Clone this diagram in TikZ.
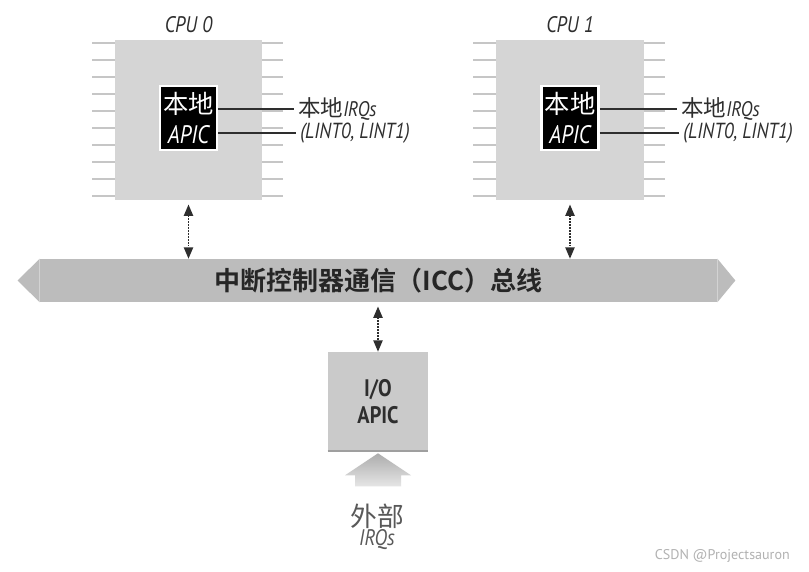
\documentclass[tikz,border=0pt]{standalone}
\usepackage{fontspec}
\setsansfont{PT Sans}
\newfontfamily\cjk{Noto Sans CJK SC}[BoldFont={Noto Sans CJK SC Bold}]
\newfontfamily\narrow{PT Sans}[FakeStretch=0.85]
\usetikzlibrary{positioning, arrows.meta, calc}
\definecolor{chipgray}{HTML}{D5D5D5}
\definecolor{pingray}{HTML}{C6C6C6}
\definecolor{busgray}{HTML}{BCBCBC}
\definecolor{iogray}{HTML}{CACACA}
\definecolor{ink}{HTML}{2E2E2E}

\begin{document}
\begin{tikzpicture}[
  x=0.025cm, y=-0.025cm,
  chip/.style={rectangle, fill=chipgray, inner sep=0pt,
               minimum width=3.675cm, minimum height=4cm},
  pin/.style={draw=pingray, line width=1.4pt},
  title/.style={font=\narrow\itshape\fontsize{16}{18}\selectfont,
                text=ink, inner sep=0pt},
  apic/.style={rectangle, fill=black, draw=white, line width=1.8pt,
               text=white, align=center, inner sep=0pt,
               minimum width=1.425cm, minimum height=1.6cm,
               font=\fontsize{18}{21}\selectfont},
  lbl/.style={anchor=west, inner sep=0pt, text=ink},
  lead/.style={draw=ink, line width=0.9pt, shorten >=3pt},
  bus/.style={rectangle, fill=busgray, inner sep=0pt,
              minimum width=16.925cm, minimum height=1.075cm,
              font=\cjk\bfseries\fontsize{18.5}{21}\selectfont, text=black!85},
  link/.style={{Triangle[length=8pt,width=6.5pt]}-{Triangle[length=8pt,width=6.5pt]},
               densely dotted, line width=1.1pt, draw=ink},
  iobox/.style={rectangle, fill=iogray, inner sep=0pt, align=center,
                minimum width=2.5cm, minimum height=2.475cm,
                font=\narrow\bfseries\fontsize{17}{19}\selectfont, text=ink}
]
\fill[white] (0,0) rectangle (809,572);
\useasboundingbox (0,0) rectangle (809,572);

% --- the two CPUs ---
\node[chip] at (188.5,120) (cpu0) {};
\node[chip] at (570,120)   (cpu1) {};
\foreach \c in {cpu0,cpu1}
  \foreach \i in {0,...,9} {
    \draw[pin] ($(\c.north west)+(0,{3+17*\i})$) -- ++(-23,0);
    \draw[pin] ($(\c.north east)+(0,{3+17*\i})$) -- ++(21,0);
  }
\node[title, above=5pt of cpu0] (t0) {CPU 0};
\node[title, above=5pt of cpu1] (t1) {CPU 1};

% --- local APICs ---
\node[apic] at ($(cpu0)+(0,-2)$) (apic0) {%
  {\cjk 本地}\\{\narrow\itshape APIC}};
\node[apic] at ($(cpu1)+(0,-2)$) (apic1) {%
  {\cjk 本地}\\{\narrow\itshape APIC}};

% --- local IRQ labels ---
\node[lbl] at (298,109) (irq0) {%
  {\cjk\fontsize{16}{18}\selectfont 本地}{\narrow\itshape\fontsize{15}{17}\selectfont IRQs}};
\node[lbl] at (300,133) (lint0) {%
  \narrow\itshape\fontsize{15.5}{17}\selectfont (LINT0, LINT1)};
\node[lbl] at (681,109) (irq1) {%
  {\cjk\fontsize{16}{18}\selectfont 本地}{\narrow\itshape\fontsize{15}{17}\selectfont IRQs}};
\node[lbl] at (683,133) (lint1) {%
  \narrow\itshape\fontsize{15.5}{17}\selectfont (LINT0, LINT1)};
\draw[lead] (apic0.east |- irq0.west) -- (irq0.west);
\draw[lead] (apic0.east |- lint0.west) -- (lint0.west);
\draw[lead] (apic1.east |- irq1.west) -- (irq1.west);
\draw[lead] (apic1.east |- lint1.west) -- (lint1.west);

% --- ICC bus ---
\node[bus] at (378.5,280.5) (bus) {中断控制器通信（ICC）总线};
\fill[busgray] (bus.north east) -- ($(bus.east)+(18,0)$) -- (bus.south east) -- cycle;
\fill[busgray] (bus.north west) -- ($(bus.west)+(-22,0)$) -- (bus.south west) -- cycle;

% --- I/O APIC ---
\node[iobox] at (378,401.5) (io) {I/O\\APIC};
\draw[gray!75, line width=1.5pt] (io.south west) -- (io.south east);
\shade[top color=gray!65, bottom color=gray!20]
  ($(io.south)+(0,2)$) -- ++(33,22) -- ++(-10,0) -- ++(0,11)
  -- ++(-46,0) -- ++(0,-11) -- ++(-10,0) -- cycle;
\node[align=center, inner sep=0pt, text=black!65] at (377,527) (ext) {%
  {\cjk\fontsize{19}{22}\selectfont 外部}\\
  {\narrow\itshape\fontsize{16}{17}\selectfont IRQs}};

% --- arrows to the bus ---
\draw[link, shorten <=3pt] (cpu0.south) -- (cpu0.south |- bus.north);
\draw[link, shorten <=3pt] (cpu1.south) -- (cpu1.south |- bus.north);
\draw[link, shorten <=3pt] (bus.south -| io.north) -- (io.north);

\node[anchor=east, inner sep=0pt, text=gray!60,
      font=\sffamily\fontsize{10}{12}\selectfont] at (790,556) (mark)
  {CSDN @Projectsauron};
\end{tikzpicture}
\end{document}
